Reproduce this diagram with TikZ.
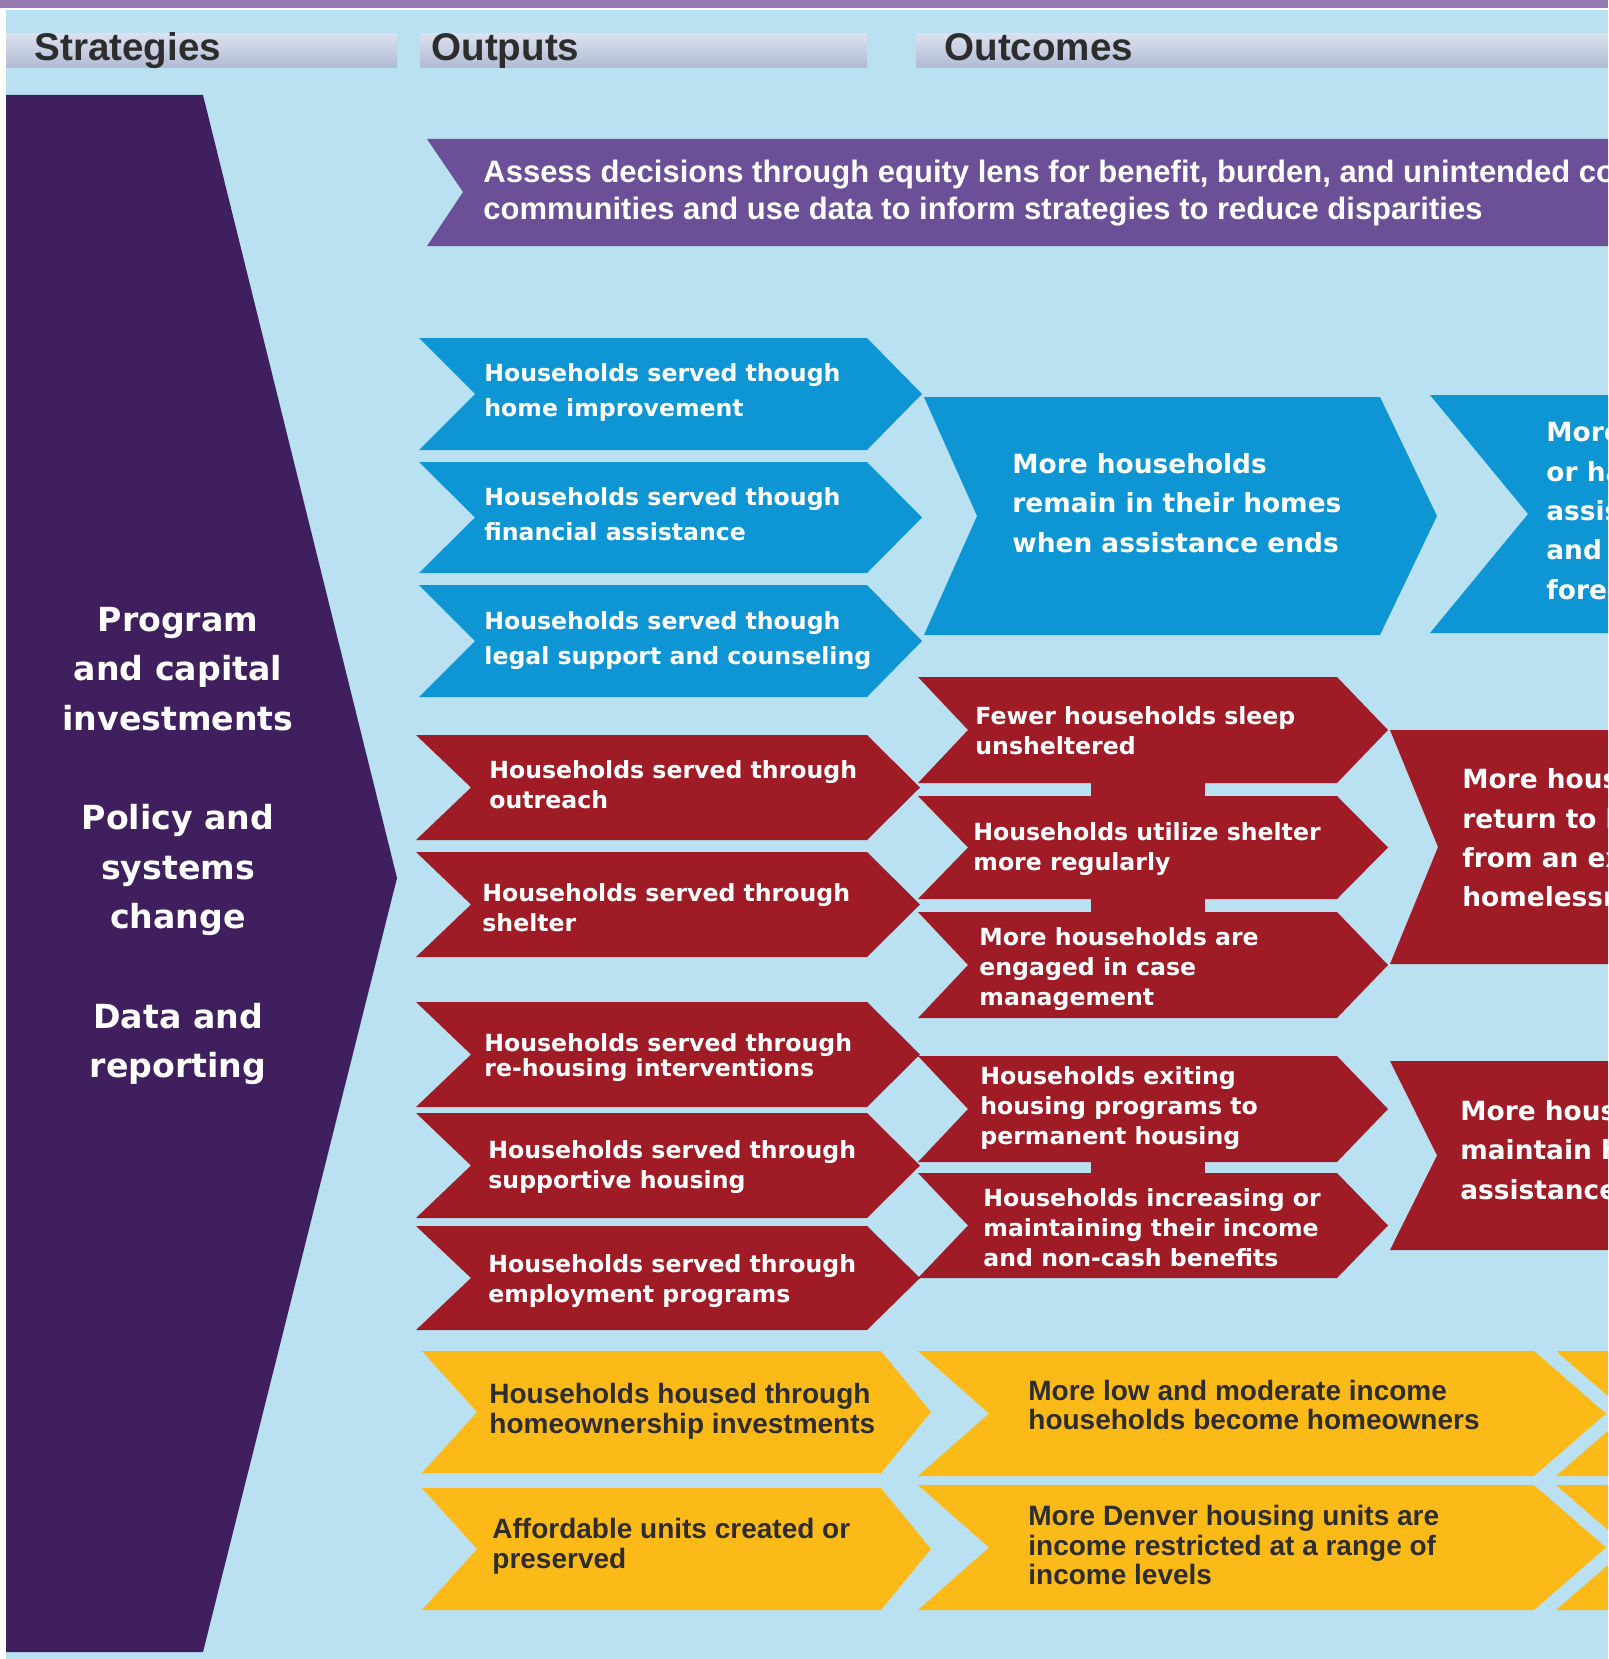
\documentclass[tikz,border=0pt]{standalone}
\usepackage{fontspec}
\setmainfont{Liberation Sans}
\newfontfamily\widefont{DejaVu Sans}
\usepackage{tikz}

\definecolor{bgblue}{RGB}{185,225,242}
\definecolor{topband}{RGB}{150,122,178}
\definecolor{stratpurple}{RGB}{64,31,94}
\definecolor{equitypurple}{RGB}{107,79,151}
\definecolor{outblue}{RGB}{14,150,212}
\definecolor{outred}{RGB}{159,28,38}
\definecolor{outyellow}{RGB}{252,186,25}
\definecolor{bartop}{RGB}{218,225,238}
\definecolor{barbot}{RGB}{176,186,210}
\definecolor{darktext}{RGB}{45,45,45}

% chevron: colour, left, top, right, bottom, notch depth, tip depth
\newcommand{\chev}[7]{%
	\fill[#1] (#2,#3) -- (#4,#3) -- ({#4+#7},{(#3+#5)/2}) -- (#4,#5) -- (#2,#5) -- ({#2+#6},{(#3+#5)/2}) -- cycle;}

\tikzset{
	hdr/.style={anchor=base west, inner sep=0, text=darktext, font=\bfseries\fontsize{19.3}{22}\selectfont},
	bluetxt/.style={anchor=west, inner sep=0, align=left, text=white, font=\widefont\bfseries\fontsize{11.8}{17.5}\selectfont},
	redtxt/.style={anchor=west, inner sep=0, align=left, text=white, font=\widefont\bfseries\fontsize{11.8}{15}\selectfont},
	bigtxt/.style={anchor=west, inner sep=0, align=left, text=white, font=\widefont\bfseries\fontsize{13.2}{19.7}\selectfont},
	yeltxt/.style={anchor=west, inner sep=0, align=left, text=darktext, font=\bfseries\fontsize{14}{14.8}\selectfont},
}

\begin{document}
\begin{tikzpicture}[x=0.5pt,y=-0.5pt]
	\useasboundingbox (0,0) rectangle (1608,1659);
	\clip (0,0) rectangle (1608,1659);
	% Background and top band
	\fill[white] (0,0) rectangle (1608,1659);
	\fill[bgblue] (6,10) rectangle (1608,1659);
	\fill[topband] (0,0) rectangle (1608,8);
	% Column headers
	\shade[top color=bartop, bottom color=barbot] (6,34) rectangle (397,68);
	\shade[top color=bartop, bottom color=barbot] (420,34) rectangle (867,68);
	\shade[top color=bartop, bottom color=barbot] (916,34) rectangle (1608,68);
	\node[hdr] (strategies) at (34,61) {Strategies};
	\node[hdr] (outputs) at (431,61) {Outputs};
	\node[hdr] (outcomes) at (944,61) {Outcomes};
	% Strategies arrow
	\fill[stratpurple] (6,95) -- (203,95) -- (397,878) -- (203,1652) -- (6,1652) -- cycle;
	\node[align=center, inner sep=0, text=white, font=\widefont\bfseries\fontsize{16.6}{24.8}\selectfont] (strat) at (178,846)
		{Program\\and capital\\investments\\[24.8pt]Policy and\\systems\\change\\[24.8pt]Data and\\reporting};
	% Equity banner
	\fill[equitypurple] (427,139) -- (1620,139) -- (1620,246) -- (427,246) -- (463,192) -- cycle;
	\node[anchor=west, inner sep=0, align=left, text=white, font=\bfseries\fontsize{15.5}{18.5}\selectfont] (equity) at (483,193)
		{Assess decisions through equity lens for benefit, burden, and unintended con\\communities and use data to inform strategies to reduce disparities};
	% Blue: outputs and outcomes
	\foreach \t/\b in {338/450,462/573,585/697} \chev{outblue}{419}{\t}{867}{\b}{56}{55};
	\chev{outblue}{924}{397}{1380}{635}{53}{57}
	\chev{outblue}{1430}{395}{1700}{633}{98}{0}
	\node[bluetxt] (homeimp) at (484,392) {Households served though\\home improvement};
	\node[bluetxt] (finassist) at (484,514) {Households served though\\financial assistance};
	\node[bluetxt] (legal) at (484,641) {Households served though\\legal support and counseling};
	\node[bigtxt] (remain) at (1012,503) {More households\\remain in their homes\\when assistance ends};
	\node[bigtxt] (foreclose) at (1546,511) {More\\or ha\\assis\\and\\forec};
	% Red: outputs
	\foreach \t/\b in {735/840,852/957,1002/1107,1113/1218,1226/1330} \chev{outred}{416}{\t}{867}{\b}{55}{53};
	\node[redtxt] (outreach) at (489,785) {Households served through\\outreach};
	\node[redtxt] (shelter) at (482,908) {Households served through\\shelter};
	\node[redtxt, font=\widefont\bfseries\fontsize{11.8}{12.5}\selectfont] (rehousing) at (484,1058) {Households served through\\re-housing interventions};
	\node[redtxt] (supportive) at (488,1167) {Households served through\\supportive housing};
	\node[redtxt] (employment) at (488,1281) {Households served through\\employment programs};
	% Red: outcomes, joined in the middle
	\foreach \t/\b in {677/783,796/899,912/1018,1056/1162,1173/1278} \chev{outred}{918}{\t}{1337}{\b}{50}{51};
	\fill[outred] (1091,780) rectangle (1205,915);
	\fill[outred] (1091,1159) rectangle (1205,1176);
	\node[redtxt] (unsheltered) at (975,731) {Fewer households sleep\\unsheltered};
	\node[redtxt] (utilize) at (973,849) {Households utilize shelter\\more regularly};
	\node[redtxt] (casemgmt) at (979,969) {More households are\\engaged in case\\management};
	\node[redtxt] (exiting) at (980,1108) {Households exiting\\housing programs to\\permanent housing};
	\node[redtxt] (income) at (983,1228) {Households increasing or\\maintaining their income\\and non-cash benefits};
	\chev{outred}{1390}{730}{1700}{964}{48}{0}
	\chev{outred}{1390}{1061}{1700}{1250}{47}{0}
	\node[bigtxt] (returnhome) at (1462,838) {More hous\\return to h\\from an ex\\homelessn};
	\node[bigtxt] (maintain) at (1460,1150) {More hous\\maintain h\\assistance};
	% Yellow: outputs and outcomes
	\foreach \t/\b in {1351/1473,1488/1610} \chev{outyellow}{422}{\t}{881}{\b}{55}{50};
	\foreach \t/\b in {1351/1476,1485/1610} {
		\chev{outyellow}{918}{\t}{1534}{\b}{71}{72}
		\chev{outyellow}{1556}{\t}{1700}{\b}{72}{0}
	}
	\node[yeltxt] (homeowner) at (489,1411) {Households housed through\\homeownership investments};
	\node[yeltxt] (affordable) at (492,1546) {Affordable units created or\\preserved};
	\node[yeltxt] (lowmod) at (1028,1405) {More low and moderate income\\households become homeowners};
	\node[yeltxt] (restricted) at (1028,1545) {More Denver housing units are\\income restricted at a range of\\income levels};
\end{tikzpicture}
\end{document}
